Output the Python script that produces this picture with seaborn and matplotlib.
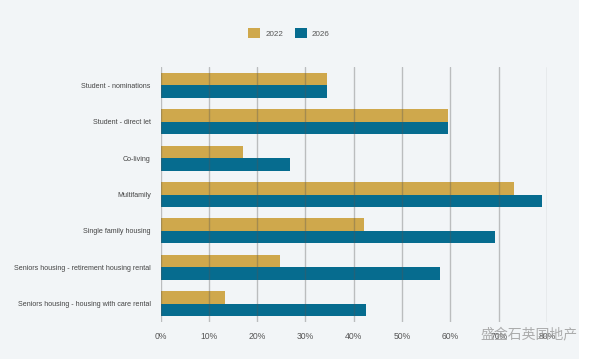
import matplotlib
matplotlib.use("Agg")
import matplotlib.pyplot as plt
from matplotlib.patches import Rectangle
import pandas as pd
import seaborn as sns

categories = [
    "Student - nominations",
    "Student - direct let",
    "Co-living",
    "Multifamily",
    "Single family housing",
    "Seniors housing - retirement housing rental",
    "Seniors housing - housing with care rental",
]
years = ["2022", "2026"]
values_2022 = [34.5, 59.6, 17.1, 73.2, 42.2, 24.7, 13.4]
values_2026 = [34.5, 59.6, 26.8, 78.9, 69.3, 57.9, 42.5]
x_ticks = [0, 10, 20, 30, 40, 50, 60, 70, 80]

df = pd.DataFrame({
    "category": categories * 2,
    "year": [years[0]] * len(categories) + [years[1]] * len(categories),
    "value": values_2022 + values_2026,
})

bg = "#f2f5f7"
palette = {"2022": "#cfa84c", "2026": "#066c8f"}

sns.set_theme(style="white")
plt.rcParams["font.family"] = ["Liberation Sans", "DejaVu Sans"]

fig = plt.figure(figsize=(6, 3.59), dpi=100, facecolor=bg)
fig.patches.append(Rectangle((579 / 600, 0), 1, 1, transform=fig.transFigure,
                             facecolor="white", edgecolor="none", zorder=0))
ax = fig.add_axes([160.5 / 600, 1 - 322 / 359, (547 - 160.5) / 600, (322 - 67) / 359])
ax.set_facecolor(bg)

sns.barplot(data=df, y="category", x="value", hue="year", order=categories,
            hue_order=years, palette=palette, orient="h", width=0.69,
            saturation=1, edgecolor="none", ax=ax, legend=False)

ax.set_xlim(0, 80)
ax.set_xticks(x_ticks)
ax.set_xticklabels([f"{t}%" for t in x_ticks], fontsize=6.2, color="#555555")
ax.tick_params(axis="y", labelsize=5.15, labelcolor="#444444", length=0, pad=7)
ax.tick_params(axis="x", length=0, pad=7)
ax.set_xlabel("")
ax.set_ylabel("")
for s in ax.spines.values():
    s.set_visible(False)
ax.set_axisbelow(False)
ax.grid(axis="x", color="#555555", alpha=0.35, linewidth=1.0, zorder=5)
ax.grid(axis="y", visible=False)

handles = [Rectangle((0, 0), 1, 1, facecolor=palette[y], edgecolor="none") for y in years]
fig.legend(handles, years, loc="center", bbox_to_anchor=(289 / 600, 1 - 33 / 359),
           ncol=2, frameon=False, fontsize=5.8, handlelength=1.5, handleheight=1.5,
           columnspacing=1.5, handletextpad=0.6, labelcolor="#555555")

fig.text(529 / 600, 1 - 334 / 359, "盛金石英国地产", fontsize=10, color="#9a9a9a",
         alpha=0.8, ha="center", va="center", style="italic",
         family=["Noto Sans CJK SC", "DejaVu Sans"])

fig.savefig("out.png", dpi=100, facecolor=bg)
